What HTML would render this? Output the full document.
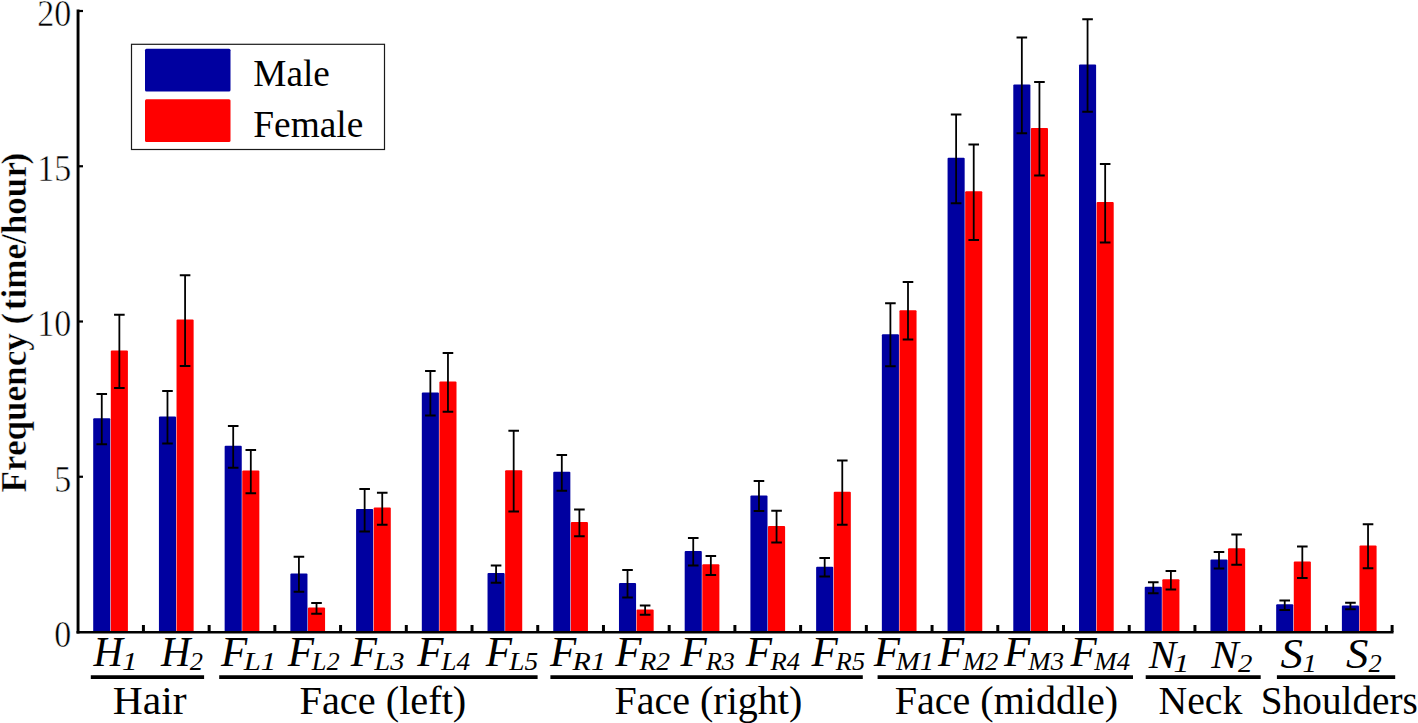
<!DOCTYPE html>
<html><head><meta charset="utf-8"><title>Frequency chart</title>
<style>html,body{margin:0;padding:0;background:#fff;}body{width:1418px;height:723px;overflow:hidden;}svg{display:block;}text{font-family:"Liberation Serif","Times New Roman",serif;fill:#000;}.it{font-style:italic;}.b{font-weight:bold;}</style></head><body>
<svg width="1418" height="723" viewBox="0 0 1418 723">
<rect width="1418" height="723" fill="#fff"/>
<rect x="93.21" y="418.3" width="17.1" height="213.7" fill="#0000a0" rx="1"/>
<rect x="110.81" y="350.4" width="17.1" height="281.6" fill="#ff0000" rx="1"/>
<rect x="158.93" y="416.5" width="17.1" height="215.5" fill="#0000a0" rx="1"/>
<rect x="176.53" y="319.5" width="17.1" height="312.5" fill="#ff0000" rx="1"/>
<rect x="224.65" y="445.7" width="17.1" height="186.3" fill="#0000a0" rx="1"/>
<rect x="242.25" y="470.6" width="17.1" height="161.4" fill="#ff0000" rx="1"/>
<rect x="290.37" y="573.5" width="17.1" height="58.5" fill="#0000a0" rx="1"/>
<rect x="307.97" y="607.6" width="17.1" height="24.4" fill="#ff0000" rx="1"/>
<rect x="356.09" y="509.0" width="17.1" height="123.0" fill="#0000a0" rx="1"/>
<rect x="373.69" y="507.5" width="17.1" height="124.5" fill="#ff0000" rx="1"/>
<rect x="421.81" y="392.4" width="17.1" height="239.6" fill="#0000a0" rx="1"/>
<rect x="439.41" y="381.4" width="17.1" height="250.6" fill="#ff0000" rx="1"/>
<rect x="487.53" y="573.1" width="17.1" height="58.9" fill="#0000a0" rx="1"/>
<rect x="505.13" y="470.3" width="17.1" height="161.7" fill="#ff0000" rx="1"/>
<rect x="553.25" y="471.8" width="17.1" height="160.2" fill="#0000a0" rx="1"/>
<rect x="570.85" y="522.0" width="17.1" height="110.0" fill="#ff0000" rx="1"/>
<rect x="618.97" y="583.1" width="17.1" height="48.9" fill="#0000a0" rx="1"/>
<rect x="636.57" y="609.6" width="17.1" height="22.4" fill="#ff0000" rx="1"/>
<rect x="684.69" y="550.9" width="17.1" height="81.1" fill="#0000a0" rx="1"/>
<rect x="702.29" y="564.2" width="17.1" height="67.8" fill="#ff0000" rx="1"/>
<rect x="750.41" y="495.4" width="17.1" height="136.6" fill="#0000a0" rx="1"/>
<rect x="768.01" y="525.9" width="17.1" height="106.1" fill="#ff0000" rx="1"/>
<rect x="816.13" y="566.7" width="17.1" height="65.3" fill="#0000a0" rx="1"/>
<rect x="833.73" y="491.8" width="17.1" height="140.2" fill="#ff0000" rx="1"/>
<rect x="881.85" y="334.3" width="17.1" height="297.7" fill="#0000a0" rx="1"/>
<rect x="899.45" y="310.3" width="17.1" height="321.7" fill="#ff0000" rx="1"/>
<rect x="947.57" y="157.7" width="17.1" height="474.3" fill="#0000a0" rx="1"/>
<rect x="965.17" y="191.2" width="17.1" height="440.8" fill="#ff0000" rx="1"/>
<rect x="1013.29" y="84.6" width="17.1" height="547.4" fill="#0000a0" rx="1"/>
<rect x="1030.89" y="127.9" width="17.1" height="504.1" fill="#ff0000" rx="1"/>
<rect x="1079.01" y="64.5" width="17.1" height="567.5" fill="#0000a0" rx="1"/>
<rect x="1096.61" y="202.0" width="17.1" height="430.0" fill="#ff0000" rx="1"/>
<rect x="1144.73" y="586.7" width="17.1" height="45.3" fill="#0000a0" rx="1"/>
<rect x="1162.33" y="579.2" width="17.1" height="52.8" fill="#ff0000" rx="1"/>
<rect x="1210.45" y="559.5" width="17.1" height="72.5" fill="#0000a0" rx="1"/>
<rect x="1228.05" y="548.3" width="17.1" height="83.7" fill="#ff0000" rx="1"/>
<rect x="1276.17" y="604.3" width="17.1" height="27.7" fill="#0000a0" rx="1"/>
<rect x="1293.77" y="561.4" width="17.1" height="70.6" fill="#ff0000" rx="1"/>
<rect x="1341.89" y="605.4" width="17.1" height="26.6" fill="#0000a0" rx="1"/>
<rect x="1359.49" y="545.4" width="17.1" height="86.6" fill="#ff0000" rx="1"/>
<path d="M101.76 393.9V444.2" stroke="#000" stroke-width="1.8" fill="none"/>
<path d="M96.46 393.9H107.06M96.46 444.2H107.06" stroke="#000" stroke-width="2" fill="none"/>
<path d="M119.36 314.8V387.9" stroke="#000" stroke-width="1.8" fill="none"/>
<path d="M114.06 314.8H124.66M114.06 387.9H124.66" stroke="#000" stroke-width="2" fill="none"/>
<path d="M167.48 390.9V443.6" stroke="#000" stroke-width="1.8" fill="none"/>
<path d="M162.18 390.9H172.78M162.18 443.6H172.78" stroke="#000" stroke-width="2" fill="none"/>
<path d="M185.08 275.2V365.9" stroke="#000" stroke-width="1.8" fill="none"/>
<path d="M179.78 275.2H190.38M179.78 365.9H190.38" stroke="#000" stroke-width="2" fill="none"/>
<path d="M233.20 426.0V467.7" stroke="#000" stroke-width="1.8" fill="none"/>
<path d="M227.90 426.0H238.50M227.90 467.7H238.50" stroke="#000" stroke-width="2" fill="none"/>
<path d="M250.80 450.0V493.2" stroke="#000" stroke-width="1.8" fill="none"/>
<path d="M245.50 450.0H256.10M245.50 493.2H256.10" stroke="#000" stroke-width="2" fill="none"/>
<path d="M298.92 556.8V591.8" stroke="#000" stroke-width="1.8" fill="none"/>
<path d="M293.62 556.8H304.22M293.62 591.8H304.22" stroke="#000" stroke-width="2" fill="none"/>
<path d="M316.52 603.0V613.7" stroke="#000" stroke-width="1.8" fill="none"/>
<path d="M311.22 603.0H321.82M311.22 613.7H321.82" stroke="#000" stroke-width="2" fill="none"/>
<path d="M364.64 488.9V531.5" stroke="#000" stroke-width="1.8" fill="none"/>
<path d="M359.34 488.9H369.94M359.34 531.5H369.94" stroke="#000" stroke-width="2" fill="none"/>
<path d="M382.24 492.8V524.8" stroke="#000" stroke-width="1.8" fill="none"/>
<path d="M376.94 492.8H387.54M376.94 524.8H387.54" stroke="#000" stroke-width="2" fill="none"/>
<path d="M430.36 371.0V415.4" stroke="#000" stroke-width="1.8" fill="none"/>
<path d="M425.06 371.0H435.66M425.06 415.4H435.66" stroke="#000" stroke-width="2" fill="none"/>
<path d="M447.96 353.1V411.7" stroke="#000" stroke-width="1.8" fill="none"/>
<path d="M442.66 353.1H453.26M442.66 411.7H453.26" stroke="#000" stroke-width="2" fill="none"/>
<path d="M496.08 565.5V582.8" stroke="#000" stroke-width="1.8" fill="none"/>
<path d="M490.78 565.5H501.38M490.78 582.8H501.38" stroke="#000" stroke-width="2" fill="none"/>
<path d="M513.68 430.7V511.4" stroke="#000" stroke-width="1.8" fill="none"/>
<path d="M508.38 430.7H518.98M508.38 511.4H518.98" stroke="#000" stroke-width="2" fill="none"/>
<path d="M561.80 455.1V490.7" stroke="#000" stroke-width="1.8" fill="none"/>
<path d="M556.50 455.1H567.10M556.50 490.7H567.10" stroke="#000" stroke-width="2" fill="none"/>
<path d="M579.40 509.6V536.3" stroke="#000" stroke-width="1.8" fill="none"/>
<path d="M574.10 509.6H584.70M574.10 536.3H584.70" stroke="#000" stroke-width="2" fill="none"/>
<path d="M627.52 570.0V597.4" stroke="#000" stroke-width="1.8" fill="none"/>
<path d="M622.22 570.0H632.82M622.22 597.4H632.82" stroke="#000" stroke-width="2" fill="none"/>
<path d="M645.12 605.6V614.8" stroke="#000" stroke-width="1.8" fill="none"/>
<path d="M639.82 605.6H650.42M639.82 614.8H650.42" stroke="#000" stroke-width="2" fill="none"/>
<path d="M693.24 538.1V565.5" stroke="#000" stroke-width="1.8" fill="none"/>
<path d="M687.94 538.1H698.54M687.94 565.5H698.54" stroke="#000" stroke-width="2" fill="none"/>
<path d="M710.84 556.0V574.9" stroke="#000" stroke-width="1.8" fill="none"/>
<path d="M705.54 556.0H716.14M705.54 574.9H716.14" stroke="#000" stroke-width="2" fill="none"/>
<path d="M758.96 481.1V511.0" stroke="#000" stroke-width="1.8" fill="none"/>
<path d="M753.66 481.1H764.26M753.66 511.0H764.26" stroke="#000" stroke-width="2" fill="none"/>
<path d="M776.56 510.7V542.6" stroke="#000" stroke-width="1.8" fill="none"/>
<path d="M771.26 510.7H781.86M771.26 542.6H781.86" stroke="#000" stroke-width="2" fill="none"/>
<path d="M824.68 557.9V576.4" stroke="#000" stroke-width="1.8" fill="none"/>
<path d="M819.38 557.9H829.98M819.38 576.4H829.98" stroke="#000" stroke-width="2" fill="none"/>
<path d="M842.28 460.4V524.7" stroke="#000" stroke-width="1.8" fill="none"/>
<path d="M836.98 460.4H847.58M836.98 524.7H847.58" stroke="#000" stroke-width="2" fill="none"/>
<path d="M890.40 303.3V366.3" stroke="#000" stroke-width="1.8" fill="none"/>
<path d="M885.10 303.3H895.70M885.10 366.3H895.70" stroke="#000" stroke-width="2" fill="none"/>
<path d="M908.00 282.0V339.5" stroke="#000" stroke-width="1.8" fill="none"/>
<path d="M902.70 282.0H913.30M902.70 339.5H913.30" stroke="#000" stroke-width="2" fill="none"/>
<path d="M956.12 114.5V203.2" stroke="#000" stroke-width="1.8" fill="none"/>
<path d="M950.82 114.5H961.42M950.82 203.2H961.42" stroke="#000" stroke-width="2" fill="none"/>
<path d="M973.72 144.6V240.0" stroke="#000" stroke-width="1.8" fill="none"/>
<path d="M968.42 144.6H979.02M968.42 240.0H979.02" stroke="#000" stroke-width="2" fill="none"/>
<path d="M1021.84 37.4V133.3" stroke="#000" stroke-width="1.8" fill="none"/>
<path d="M1016.54 37.4H1027.14M1016.54 133.3H1027.14" stroke="#000" stroke-width="2" fill="none"/>
<path d="M1039.44 81.9V175.6" stroke="#000" stroke-width="1.8" fill="none"/>
<path d="M1034.14 81.9H1044.74M1034.14 175.6H1044.74" stroke="#000" stroke-width="2" fill="none"/>
<path d="M1087.56 19.2V111.7" stroke="#000" stroke-width="1.8" fill="none"/>
<path d="M1082.26 19.2H1092.86M1082.26 111.7H1092.86" stroke="#000" stroke-width="2" fill="none"/>
<path d="M1105.16 164.1V242.4" stroke="#000" stroke-width="1.8" fill="none"/>
<path d="M1099.86 164.1H1110.46M1099.86 242.4H1110.46" stroke="#000" stroke-width="2" fill="none"/>
<path d="M1153.28 582.3V593.3" stroke="#000" stroke-width="1.8" fill="none"/>
<path d="M1147.98 582.3H1158.58M1147.98 593.3H1158.58" stroke="#000" stroke-width="2" fill="none"/>
<path d="M1170.88 571.1V589.6" stroke="#000" stroke-width="1.8" fill="none"/>
<path d="M1165.58 571.1H1176.18M1165.58 589.6H1176.18" stroke="#000" stroke-width="2" fill="none"/>
<path d="M1219.00 551.9V568.5" stroke="#000" stroke-width="1.8" fill="none"/>
<path d="M1213.70 551.9H1224.30M1213.70 568.5H1224.30" stroke="#000" stroke-width="2" fill="none"/>
<path d="M1236.60 534.4V564.7" stroke="#000" stroke-width="1.8" fill="none"/>
<path d="M1231.30 534.4H1241.90M1231.30 564.7H1241.90" stroke="#000" stroke-width="2" fill="none"/>
<path d="M1284.72 600.6V609.9" stroke="#000" stroke-width="1.8" fill="none"/>
<path d="M1279.42 600.6H1290.02M1279.42 609.9H1290.02" stroke="#000" stroke-width="2" fill="none"/>
<path d="M1302.32 546.5V578.0" stroke="#000" stroke-width="1.8" fill="none"/>
<path d="M1297.02 546.5H1307.62M1297.02 578.0H1307.62" stroke="#000" stroke-width="2" fill="none"/>
<path d="M1350.44 602.7V609.3" stroke="#000" stroke-width="1.8" fill="none"/>
<path d="M1345.14 602.7H1355.74M1345.14 609.3H1355.74" stroke="#000" stroke-width="2" fill="none"/>
<path d="M1368.04 524.3V568.2" stroke="#000" stroke-width="1.8" fill="none"/>
<path d="M1362.74 524.3H1373.34M1362.74 568.2H1373.34" stroke="#000" stroke-width="2" fill="none"/>
<path d="M78.05 9.6V633.4" stroke="#000" stroke-width="2.9" fill="none"/>
<path d="M76.5 632.2H1393.5" stroke="#000" stroke-width="2.5" fill="none"/>
<path d="M78 476.75H83" stroke="#000" stroke-width="2.2"/>
<path d="M78 321.50H83" stroke="#000" stroke-width="2.2"/>
<path d="M78 166.25H83" stroke="#000" stroke-width="2.2"/>
<path d="M78 11.00H83" stroke="#000" stroke-width="2.2"/>
<path d="M143.42 632V625" stroke="#000" stroke-width="3"/>
<path d="M209.14 632V625" stroke="#000" stroke-width="3"/>
<path d="M274.86 632V625" stroke="#000" stroke-width="3"/>
<path d="M340.58 632V625" stroke="#000" stroke-width="3"/>
<path d="M406.30 632V625" stroke="#000" stroke-width="3"/>
<path d="M472.02 632V625" stroke="#000" stroke-width="3"/>
<path d="M537.74 632V625" stroke="#000" stroke-width="3"/>
<path d="M603.46 632V625" stroke="#000" stroke-width="3"/>
<path d="M669.18 632V625" stroke="#000" stroke-width="3"/>
<path d="M734.90 632V625" stroke="#000" stroke-width="3"/>
<path d="M800.62 632V625" stroke="#000" stroke-width="3"/>
<path d="M866.34 632V625" stroke="#000" stroke-width="3"/>
<path d="M932.06 632V625" stroke="#000" stroke-width="3"/>
<path d="M997.78 632V625" stroke="#000" stroke-width="3"/>
<path d="M1063.50 632V625" stroke="#000" stroke-width="3"/>
<path d="M1129.22 632V625" stroke="#000" stroke-width="3"/>
<path d="M1194.94 632V625" stroke="#000" stroke-width="3"/>
<path d="M1260.66 632V625" stroke="#000" stroke-width="3"/>
<path d="M1326.38 632V625" stroke="#000" stroke-width="3"/>
<path d="M1392.10 632V625" stroke="#000" stroke-width="3"/>
<text x="54.3" y="646.8" font-size="37" textLength="17" lengthAdjust="spacingAndGlyphs" stroke="#fff" stroke-width="0.5">0</text>
<text x="54.3" y="491.6" font-size="37" textLength="17" lengthAdjust="spacingAndGlyphs" stroke="#fff" stroke-width="0.5">5</text>
<text x="37.3" y="336.3" font-size="37" textLength="34" lengthAdjust="spacingAndGlyphs" stroke="#fff" stroke-width="0.5">10</text>
<text x="37.3" y="181.1" font-size="37" textLength="34" lengthAdjust="spacingAndGlyphs" stroke="#fff" stroke-width="0.5">15</text>
<text x="37.3" y="25.8" font-size="37" textLength="34" lengthAdjust="spacingAndGlyphs" stroke="#fff" stroke-width="0.5">20</text>
<text transform="translate(25.8 492.5) rotate(-90) scale(1 1.03)" font-size="35.1" class="b" stroke="#fff" stroke-width="0.4" dx="0 0 0 0 0 0 0 0 0 0 0 2.5 0 0 0 0 0 0 0 0 -2.5">Frequency (time/hour)</text>
<rect x="131.5" y="44.3" width="253" height="105.2" fill="#fff" stroke="#1a1a1a" stroke-width="1.2"/>
<rect x="145" y="48.8" width="85.5" height="42.8" fill="#0000a0" rx="1.5"/>
<rect x="145" y="99.2" width="85.5" height="42.8" fill="#ff0000" rx="1.5"/>
<text x="253.3" y="85.7" font-size="37.5" textLength="76.5" lengthAdjust="spacingAndGlyphs">Male</text>
<text x="253.3" y="136.9" font-size="37.5" textLength="110" lengthAdjust="spacingAndGlyphs">Female</text>
<text transform="translate(93.39 665.8) scale(1.02 1.06)" font-size="40" class="it">H</text>
<text x="121.92" y="669.5" font-size="25.5" class="it" textLength="15.51" lengthAdjust="spacingAndGlyphs">1</text>
<text transform="translate(160.97 665.8) scale(1.02 1.06)" font-size="40" class="it">H</text>
<text x="189.85" y="669.5" font-size="25.5" class="it" textLength="13.21" lengthAdjust="spacingAndGlyphs">2</text>
<text transform="translate(221.10 665.8) scale(1.074 1.06)" font-size="40" class="it">F</text>
<text x="243.65" y="669.5" font-size="25.5" class="it" textLength="32.55" lengthAdjust="spacingAndGlyphs">L1</text>
<text transform="translate(287.74 665.8) scale(1.074 1.06)" font-size="40" class="it">F</text>
<text x="311.81" y="669.5" font-size="25.5" class="it" textLength="27.94" lengthAdjust="spacingAndGlyphs">L2</text>
<text transform="translate(350.77 665.8) scale(1.074 1.06)" font-size="40" class="it">F</text>
<text x="374.31" y="669.5" font-size="25.5" class="it" textLength="30.11" lengthAdjust="spacingAndGlyphs">L3</text>
<text transform="translate(417.27 665.8) scale(1.074 1.06)" font-size="40" class="it">F</text>
<text x="441.17" y="669.5" font-size="25.5" class="it" textLength="29.00" lengthAdjust="spacingAndGlyphs">L4</text>
<text transform="translate(485.77 665.8) scale(1.074 1.06)" font-size="40" class="it">F</text>
<text x="509.35" y="669.5" font-size="25.5" class="it" textLength="28.82" lengthAdjust="spacingAndGlyphs">L5</text>
<text transform="translate(550.10 665.8) scale(1.074 1.06)" font-size="40" class="it">F</text>
<text x="572.62" y="669.5" font-size="25.5" class="it" textLength="33.25" lengthAdjust="spacingAndGlyphs">R1</text>
<text transform="translate(615.22 665.8) scale(1.074 1.06)" font-size="40" class="it">F</text>
<text x="639.42" y="669.5" font-size="25.5" class="it" textLength="30.72" lengthAdjust="spacingAndGlyphs">R2</text>
<text transform="translate(680.54 665.8) scale(1.074 1.06)" font-size="40" class="it">F</text>
<text x="705.90" y="669.5" font-size="25.5" class="it" textLength="29.02" lengthAdjust="spacingAndGlyphs">R3</text>
<text transform="translate(745.86 665.8) scale(1.074 1.06)" font-size="40" class="it">F</text>
<text x="770.60" y="669.5" font-size="25.5" class="it" textLength="29.54" lengthAdjust="spacingAndGlyphs">R4</text>
<text transform="translate(811.54 665.8) scale(1.074 1.06)" font-size="40" class="it">F</text>
<text x="835.89" y="669.5" font-size="25.5" class="it" textLength="29.13" lengthAdjust="spacingAndGlyphs">R5</text>
<text transform="translate(873.74 665.8) scale(1.074 1.06)" font-size="40" class="it">F</text>
<text x="895.90" y="669.5" font-size="25.5" class="it" textLength="38.26" lengthAdjust="spacingAndGlyphs">M1</text>
<text transform="translate(938.10 665.8) scale(1.074 1.06)" font-size="40" class="it">F</text>
<text x="962.91" y="669.5" font-size="25.5" class="it" textLength="35.32" lengthAdjust="spacingAndGlyphs">M2</text>
<text transform="translate(1004.10 665.8) scale(1.074 1.06)" font-size="40" class="it">F</text>
<text x="1028.38" y="669.5" font-size="25.5" class="it" textLength="35.62" lengthAdjust="spacingAndGlyphs">M3</text>
<text transform="translate(1070.54 665.8) scale(1.074 1.06)" font-size="40" class="it">F</text>
<text x="1094.28" y="669.5" font-size="25.5" class="it" textLength="35.85" lengthAdjust="spacingAndGlyphs">M4</text>
<text transform="translate(1148.63 668.0) scale(1.03 1.025)" font-size="40" class="it">N</text>
<text x="1173.55" y="671.7" font-size="25.5" class="it" textLength="15.84" lengthAdjust="spacingAndGlyphs">1</text>
<text transform="translate(1211.32 668.0) scale(1.03 1.025)" font-size="40" class="it">N</text>
<text x="1238.09" y="671.7" font-size="25.5" class="it" textLength="14.39" lengthAdjust="spacingAndGlyphs">2</text>
<text transform="translate(1280.59 668.0) scale(1.12 1.03)" font-size="40" class="it">S</text>
<text x="1302.50" y="671.7" font-size="25.5" class="it" textLength="14.33" lengthAdjust="spacingAndGlyphs">1</text>
<text transform="translate(1346.03 668.0) scale(1.12 1.03)" font-size="40" class="it">S</text>
<text x="1368.60" y="671.7" font-size="25.5" class="it" textLength="13.24" lengthAdjust="spacingAndGlyphs">2</text>
<path d="M90.8 677.2H204.1" stroke="#000" stroke-width="3.7"/>
<text transform="translate(112.76 713.6) scale(1 1.012)" font-size="40" textLength="73.86" lengthAdjust="spacingAndGlyphs">Hair</text>
<path d="M219.2 677.2H537.6" stroke="#000" stroke-width="3.7"/>
<text transform="translate(299.47 713.6) scale(1 1.012)" font-size="40" textLength="166.84" lengthAdjust="spacingAndGlyphs">Face (left)</text>
<path d="M550.4 677.2H862.8" stroke="#000" stroke-width="3.7"/>
<text transform="translate(614.45 713.6) scale(1 1.012)" font-size="40" textLength="187.76" lengthAdjust="spacingAndGlyphs">Face (right)</text>
<path d="M877.6 677.2H1133.0" stroke="#000" stroke-width="3.7"/>
<text transform="translate(894.77 713.6) scale(1 1.012)" font-size="40" textLength="223.43" lengthAdjust="spacingAndGlyphs">Face (middle)</text>
<path d="M1145.7 677.2H1260.7" stroke="#000" stroke-width="3.7"/>
<text transform="translate(1158.45 713.6) scale(1 1.012)" font-size="40" textLength="83.83" lengthAdjust="spacingAndGlyphs">Neck</text>
<path d="M1276.9 677.2H1395.2" stroke="#000" stroke-width="3.7"/>
<text transform="translate(1260.82 713.6) scale(1 1.012)" font-size="40" textLength="157.09" lengthAdjust="spacingAndGlyphs">Shoulders</text>
</svg></body></html>
